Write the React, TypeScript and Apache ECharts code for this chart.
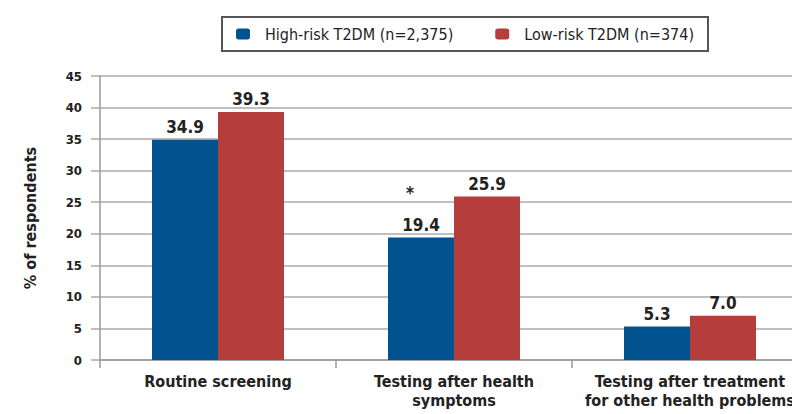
import React, { useEffect, useRef } from "react";
import * as echarts from "echarts";

const categories = ["Routine screening", "Testing after health\nsymptoms", "Testing after treatment\nfor other health problems"];
const highRisk = [34.9, 19.4, 5.3];
const lowRisk = [39.3, 25.9, 7.0];
const seriesNames = ["High-risk T2DM (n=2,375)", "Low-risk T2DM (n=374)"];
const starred = [false, true, false];

const FONT = "'Liberation Sans Narrow', 'DejaVu Sans Condensed', 'Roboto', sans-serif";

export default function App() {
  const ref = useRef<HTMLDivElement>(null);
  useEffect(() => {
    const chart = echarts.init(ref.current!, null, { renderer: "svg" });
    const labelCommon = {
      show: true,
      position: "top",
      distance: 4,
      fontFamily: FONT,
      fontWeight: "bold",
      fontSize: 17,
      color: "#222",
    };
    chart.setOption({
      animation: false,
      backgroundColor: "#fff",
      textStyle: { fontFamily: FONT },
      legend: {
        left: 222,
        top: 17,
        padding: [9, 14, 9, 14],
        borderColor: "#555",
        borderWidth: 2,
        itemWidth: 14,
        itemHeight: 11,
        itemGap: 42,
        textStyle: { fontFamily: FONT, fontSize: 16, color: "#222", padding: [0, 0, 0, 10] },
        data: seriesNames,
      },
      grid: { left: 100, top: 76, bottom: 54, width: 708 },
      xAxis: {
        type: "category",
        data: categories,
        axisLine: { lineStyle: { color: "#999", width: 1.5 } },
        axisTick: { show: true, length: 8, lineStyle: { color: "#999", width: 1.5 } },
        axisLabel: {
          fontFamily: FONT,
          fontWeight: "bold",
          fontSize: 16,
          color: "#222",
          margin: 12,
          lineHeight: 19,
          interval: 0,
        },
      },
      yAxis: {
        type: "value",
        min: 0,
        max: 45,
        interval: 5,
        name: "% of respondents",
        nameLocation: "middle",
        nameGap: 62,
        nameTextStyle: { fontFamily: FONT, fontWeight: "bold", fontSize: 16, color: "#222" },
        axisLine: { show: true, lineStyle: { color: "#999", width: 1.5 } },
        axisTick: { show: true, length: 9, lineStyle: { color: "#aaa", width: 1.5 } },
        splitLine: { lineStyle: { color: "#aaa", width: 1.5 } },
        axisLabel: { fontFamily: FONT, fontWeight: "bold", fontSize: 13, color: "#222", margin: 18 },
      },
      series: [
        {
          name: seriesNames[0],
          type: "bar",
          data: highRisk,
          barWidth: 66,
          barGap: 0,
          itemStyle: { color: "#00538F" },
          label: {
            ...labelCommon,
            formatter: (p: any) =>
              starred[p.dataIndex] ? "{star|*}\n{val|" + p.value.toFixed(1) + "}" : "{val|" + p.value.toFixed(1) + "}",
            rich: {
              star: { fontFamily: FONT, fontWeight: "bold", fontSize: 17, color: "#222", padding: [0, 22, 15, 0] },
              val: { fontFamily: FONT, fontWeight: "bold", fontSize: 17, color: "#222" },
            },
          },
        },
        {
          name: seriesNames[1],
          type: "bar",
          data: lowRisk,
          barWidth: 66,
          barGap: 0,
          itemStyle: { color: "#B53D3C" },
          label: { ...labelCommon, formatter: (p: any) => p.value.toFixed(1) },
        },
      ],
    });
    return () => chart.dispose();
  }, []);
  return (
    <div style={{ width: 792, height: 414, position: "absolute", left: 0, top: 0, overflow: "hidden" }}>
      <div ref={ref} style={{ width: 820, height: 414 }} />
    </div>
  );
}
